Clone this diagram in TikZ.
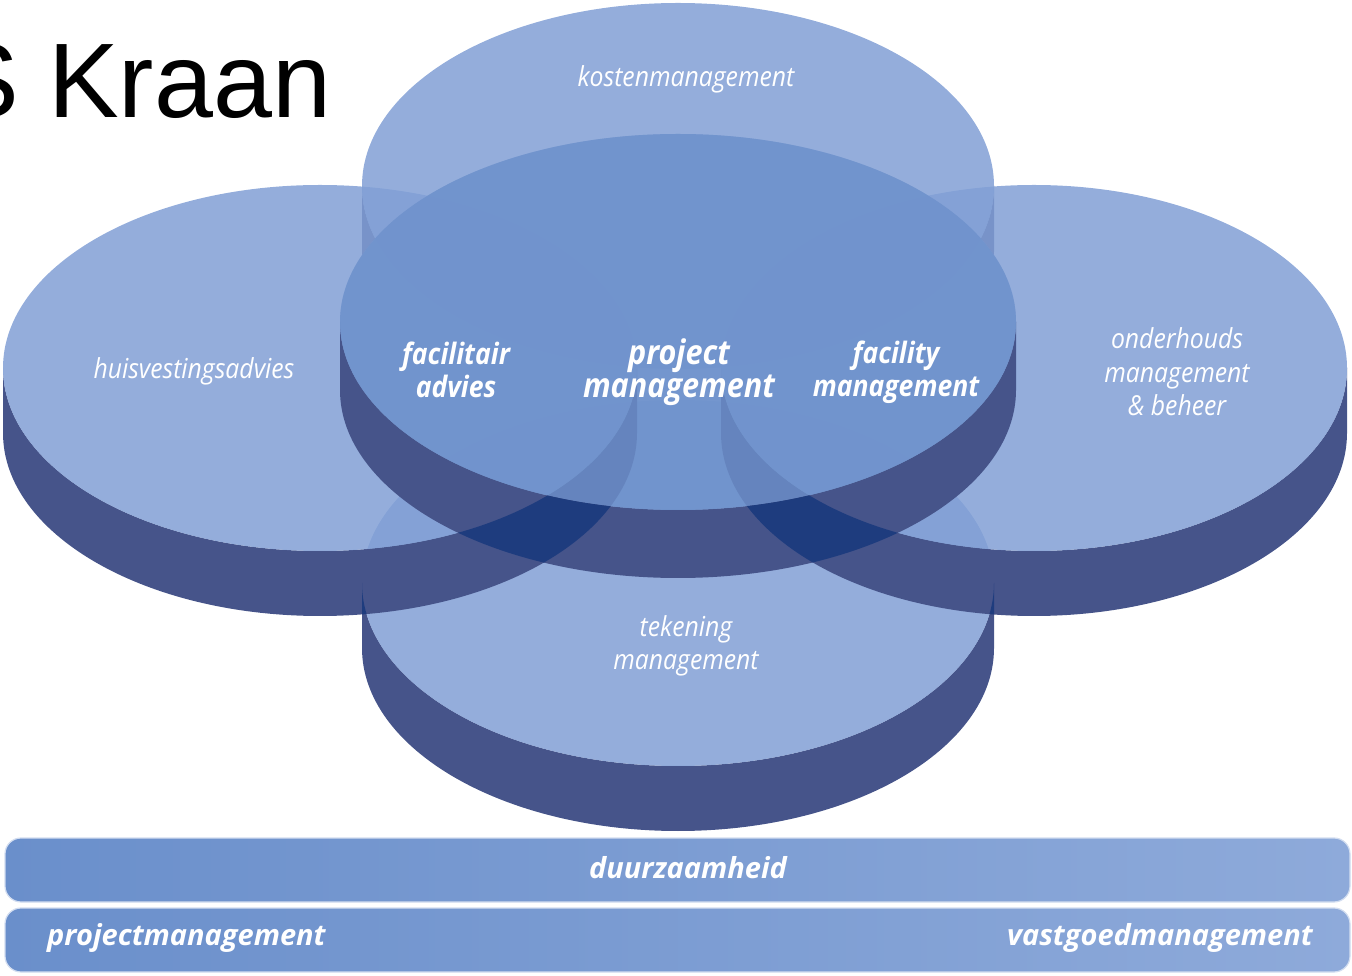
\documentclass[tikz,border=0pt]{standalone}
\usepackage{fontspec}
\setmainfont{Liberation Sans}
\newfontfamily\lbl{Open Sans}[FakeStretch=0.9]
\newfontfamily\lblw{Open Sans}
\definecolor{faceL}{HTML}{819FD5}
\definecolor{faceBase}{HTML}{94AEDB}
\definecolor{faceC}{HTML}{6D91CB}
\definecolor{sideD}{HTML}{46548A}
\definecolor{sideDD}{HTML}{1E3C7E}
\definecolor{barA}{HTML}{6A8FCB}
\definecolor{barB}{HTML}{8EAADA}
\definecolor{barC}{HTML}{9AB3DE}
\newcommand{\mysidepath}[5]{(#1-#3,#2) arc[start angle=180,end angle=360,x radius=#3,y radius=#4] -- ++(0,-#5) arc[start angle=0,end angle=-180,x radius=#3,y radius=#4] -- cycle}
\newcommand{\myface}[4]{(#1,#2) ellipse[x radius=#3,y radius=#4]}
\tikzset{
  sidefill/.style={fill=sideD},
  facefill/.style={fill=faceL, fill opacity=0.85},
  centerfill/.style={fill=faceC, fill opacity=0.8},
  lab/.style={text=white, align=center, inner sep=0pt, font=\lbl\itshape\fontsize{27.5}{33.5}\selectfont},
  blab/.style={text=white, align=center, inner sep=0pt, font=\lbl\bfseries\itshape\fontsize{29.5}{33}\selectfont},
  pblab/.style={text=white, align=center, inner sep=0pt, font=\lbl\bfseries\itshape\fontsize{34}{33}\selectfont},
  barlab/.style={text=white, inner sep=0pt, font=\lblw\bfseries\itshape\fontsize{29}{30}\selectfont},
  bar/.style={rounded corners=16pt, draw=white!60!barB, line width=1.2pt}
}
\begin{document}
\begin{tikzpicture}[x=1pt,y=1pt]
\useasboundingbox (0,0) rectangle (1352,975);
\clip (0,0) rectangle (1352,975);
% base under the centre disc, so its face reads evenly
\path[fill=faceBase] \myface{678}{653}{338}{188};
% top disc (its side is hidden under the centre disc)
\begin{scope}[even odd rule]
  \clip (0,0) rectangle (1352,975) \myface{678}{653}{338}{188};
  \path[sidefill] \mysidepath{678}{789}{316}{183}{65};
\end{scope}
\path[facefill] \myface{678}{789}{316}{183};
% bottom disc
\path[sidefill] \mysidepath{678}{392}{316}{183}{65};
\path[facefill] \myface{678}{392}{316}{183};
% left disc
\path[sidefill] \mysidepath{320}{607}{317}{183}{65};
\path[facefill] \myface{320}{607}{317}{183};
% right disc
\path[sidefill] \mysidepath{1034}{607}{313}{183}{65};
\path[facefill] \myface{1034}{607}{313}{183};
% center disc
\path[sidefill] \mysidepath{678}{653}{338}{188}{68};
\path[centerfill] \myface{678}{653}{338}{188};
% side overlaps
\begin{scope}
  \clip \mysidepath{320}{607}{317}{183}{65};
  \fill[sideDD] \mysidepath{678}{653}{338}{188}{68};
  \fill[sideDD] \mysidepath{678}{392}{316}{183}{65};
\end{scope}
\begin{scope}
  \clip \mysidepath{1034}{607}{313}{183}{65};
  \fill[sideDD] \mysidepath{678}{653}{338}{188}{68};
  \fill[sideDD] \mysidepath{678}{392}{316}{183}{65};
\end{scope}
% labels
\node[lab] (kosten) at (686,896) {kostenmanagement};
\node[lab] (huis) at (194,604) {huisvestingsadvies};
\node[blab] (facil) at (456,605) {facilitair\\advies};
\node[pblab] (proj) at (679,603) {project\\management};
\node[blab] (facility) at (896,603) {facility\\management};
\node[lab] (onder) at (1177,603) {onderhouds\\management\\\&\ beheer};
\node[lab] (teken) at (686,329) {tekening\\management};
% bars
\path[bar, left color=barA, right color=barB] (5,73) rectangle (1350,137);
\path[bar, left color=barA, middle color=barC, right color=barB] (5,3) rectangle (1350,67);
\node[barlab] (duur) at (688,107) {duurzaamheid};
\node[barlab, anchor=west] (pm) at (47,37) {projectmanagement};
\node[barlab, anchor=east] (vg) at (1313,37) {vastgoedmanagement};
% title
\node[anchor=base west, inner sep=0pt, font=\fontsize{106}{106}\selectfont] (title) at (-52,857) {S Kraan};
\end{tikzpicture}
\end{document}
